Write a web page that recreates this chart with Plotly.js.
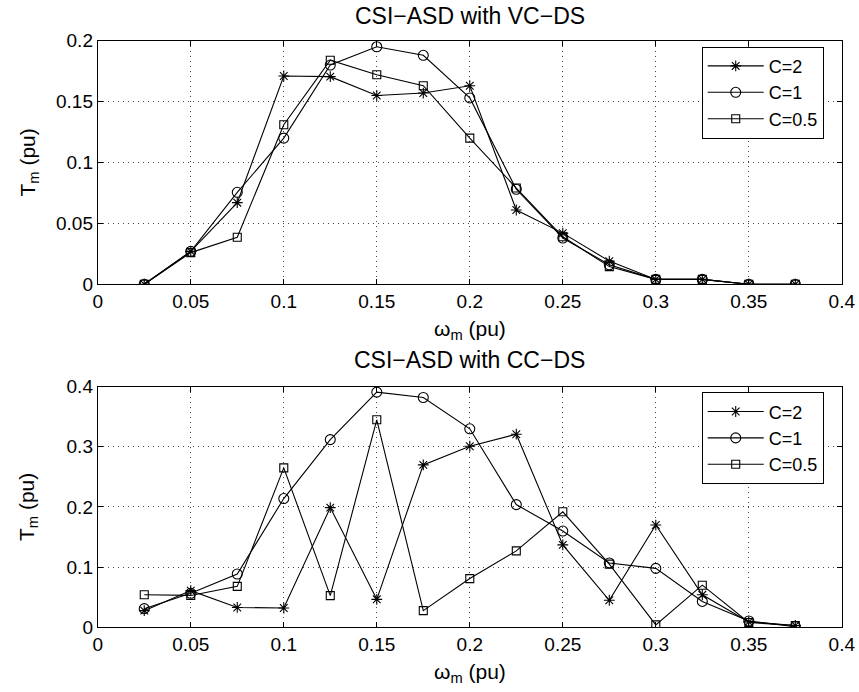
<!DOCTYPE html>
<html>
<head>
<meta charset="utf-8">
<script src="https://cdn.plot.ly/plotly-3.0.1.min.js"></script>
<style>html,body{margin:0;padding:0;background:#fff;}#chart{width:859px;height:692px;}</style>
</head>
<body>
<div id="chart"></div>
<script>
// ---- data ----
const omega = [0.025, 0.05, 0.075, 0.1, 0.125, 0.15, 0.175, 0.2, 0.225, 0.25, 0.275, 0.3, 0.325, 0.35, 0.375];
const seriesNames = ["C=2", "C=1", "C=0.5"];

// CSI-ASD with VC-DS
const vcC2  = [0, 0.027, 0.067, 0.171, 0.1705, 0.155, 0.157, 0.163, 0.061, 0.042, 0.019, 0.004, 0.004, 0, 0];
const vcC1  = [0, 0.027, 0.0755, 0.120, 0.180, 0.195, 0.188, 0.153, 0.078, 0.038, 0.016, 0.004, 0.004, 0, 0];
const vcC05 = [0, 0.026, 0.0386, 0.131, 0.184, 0.172, 0.163, 0.120, 0.079, 0.039, 0.0145, 0.004, 0.004, 0, 0];

// CSI-ASD with CC-DS
const ccC2  = [0.0277, 0.061, 0.033, 0.032, 0.199, 0.0465, 0.270, 0.301, 0.321, 0.137, 0.045, 0.170, 0.054, 0.009, 0.003];
const ccC1  = [0.031, 0.0565, 0.0886, 0.214, 0.312, 0.391, 0.382, 0.330, 0.204, 0.160, 0.107, 0.098, 0.043, 0.0105, 0.001];
const ccC05 = [0.054, 0.053, 0.068, 0.265, 0.0526, 0.345, 0.0277, 0.081, 0.127, 0.192, 0.105, 0.004, 0.070, 0.008, 0.003];

const xTickVals = [0, 0.05, 0.1, 0.15, 0.2, 0.25, 0.3, 0.35, 0.4];
const xTickText = ["0", "0.05", "0.1", "0.15", "0.2", "0.25", "0.3", "0.35", "0.4"];
const yTopTickVals = [0, 0.05, 0.1, 0.15, 0.2];
const yTopTickText = ["0", "0.05", "0.1", "0.15", "0.2"];
const yBotTickVals = [0, 0.1, 0.2, 0.3, 0.4];
const yBotTickText = ["0", "0.1", "0.2", "0.3", "0.4"];

const titles = ["CSI\u2212ASD with VC\u2212DS", "CSI\u2212ASD with CC\u2212DS"];
const xTitle = "\u03c9<sub>m</sub> (pu)";
const yTitle = "T<sub>m</sub> (pu)";

// ---- styling ----
const FONT = "'Liberation Sans', Arial, Helvetica, sans-serif";
const symbols = ["asterisk-open", "circle-open", "square-open"];
const sizes = [9, 10, 8];
const H = 692, W = 859;

function mk(x, y, i, xa, ya, lg) {
  return {
    x: x, y: y, type: "scatter", mode: "lines+markers",
    name: seriesNames[i], xaxis: xa, yaxis: ya, legend: lg,
    line: {color: "#000", width: 1.1},
    marker: {symbol: symbols[i], size: sizes[i], color: "#000", line: {color: "#000", width: 1.1}}
  };
}

const traces = [
  mk(omega, vcC2, 0, "x", "y", "legend"),
  mk(omega, vcC1, 1, "x", "y", "legend"),
  mk(omega, vcC05, 2, "x", "y", "legend"),
  mk(omega, ccC2, 0, "x2", "y2", "legend2"),
  mk(omega, ccC1, 1, "x2", "y2", "legend2"),
  mk(omega, ccC05, 2, "x2", "y2", "legend2")
];

const common = {
  ticks: "inside", ticklen: 5, tickcolor: "#000", mirror: "allticks",
  showline: true, linecolor: "#000", linewidth: 1,
  showgrid: true, gridcolor: "#444", griddash: "1px,4px", gridwidth: 1,
  zeroline: false, tickfont: {family: FONT, size: 19, color: "#000"},
  automargin: false, fixedrange: true
};
function xax(anchor) {
  return Object.assign({}, common, {
    domain: [0.1138, 0.98], anchor: anchor, range: [0, 0.4],
    tickvals: xTickVals, ticktext: xTickText
  });
}
function yax(anchor, dom, rng, tv, tt) {
  return Object.assign({}, common, {
    domain: dom, anchor: anchor, range: rng,
    tickvals: tv, ticktext: tt
  });
}

const legendBase = {
  x: 0.8169, xanchor: "left", yanchor: "top",
  bgcolor: "#fff", bordercolor: "#000", borderwidth: 1,
  font: {family: FONT, size: 18, color: "#000"},
  itemwidth: 56, tracegroupgap: 0
};

function ann(text, xpx, ypx, size, angle) {
  return {text: text, xref: "paper", yref: "paper", x: xpx / W, y: 1 - ypx / H,
          xanchor: "center", yanchor: "middle", showarrow: false, textangle: angle || 0,
          font: {family: FONT, size: size, color: "#000"}};
}

const layout = {
  width: W, height: H,
  margin: {l: 0, r: 0, t: 0, b: 0},
  paper_bgcolor: "#fff", plot_bgcolor: "#fff",
  showlegend: true,
  xaxis: xax("y"),
  yaxis: yax("x", [0.5892, 0.9412], [0, 0.2], yTopTickVals, yTopTickText),
  xaxis2: xax("y2"),
  yaxis2: yax("x2", [0.0935, 0.4412], [0, 0.4], yBotTickVals, yBotTickText),
  legend: Object.assign({}, legendBase, {y: 0.9325}),
  legend2: Object.assign({}, legendBase, {y: 0.4331}),
  annotations: [
    ann(titles[0], 469.8, 16, 23),
    ann(titles[1], 469.8, 359.5, 23),
    ann(xTitle, 469.8, 330, 21),
    ann(xTitle, 469.8, 673, 21),
    ann(yTitle, 28, 162.5, 21, -90),
    ann(yTitle, 28, 507, 21, -90)
  ]
};

Plotly.newPlot("chart", traces, layout, {displayModeBar: false, staticPlot: true});
</script>
</body>
</html>
